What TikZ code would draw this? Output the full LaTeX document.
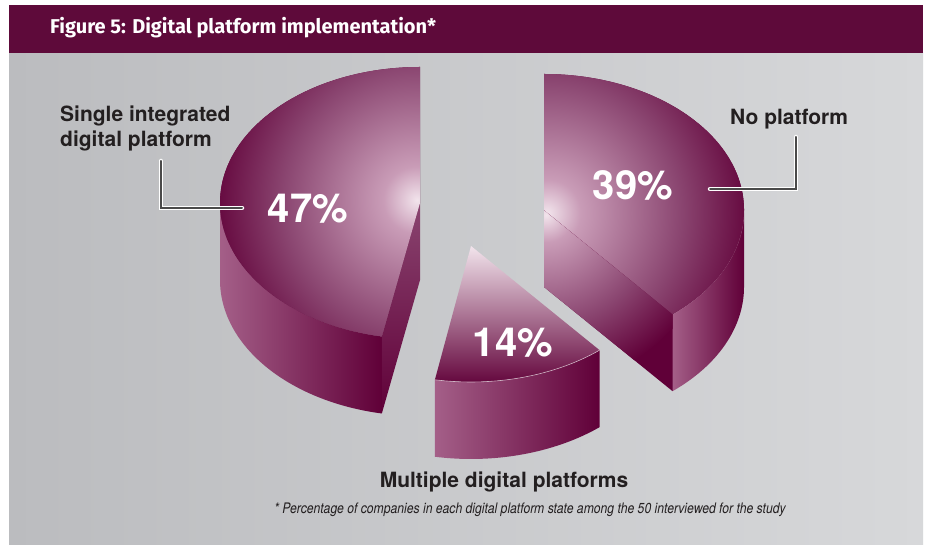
\documentclass[tikz,border=0pt]{standalone}
\usepackage{fontspec}
\setmainfont{TeX Gyre Heros}
\newfontfamily\titlefont{Fira Sans}
\newfontfamily\notefont[FakeStretch=0.84]{TeX Gyre Heros}
\usetikzlibrary{calc}

\definecolor{barmaroon}{HTML}{5E0A3A}
\definecolor{piedark}{HTML}{600038}
\definecolor{piewall}{HTML}{A45F88}
\definecolor{glowA}{HTML}{F2E4EC}
\definecolor{glowB}{HTML}{C99CB7}
\definecolor{glowC}{HTML}{8A4570}
\definecolor{panelL}{HTML}{BBBCBF}
\definecolor{panelR}{HTML}{D7D8DA}
\definecolor{leadgray}{HTML}{4A4A4A}
\definecolor{labeltext}{HTML}{231F20}

\pgfdeclareradialshading{pieglow}{\pgfpoint{0bp}{0bp}}{color(0bp)=(glowA); color(4bp)=(glowB); color(16bp)=(glowC); color(25bp)=(piedark); color(50bp)=(piedark)}

\tikzset{
  label/.style={font=\bfseries\fontsize{21}{25}\selectfont, text=labeltext, inner sep=0pt, align=left},
  pct/.style={font=\bfseries\fontsize{40}{44}\selectfont, text=white, inner sep=0pt},
  leader/.style={draw=leadgray, line width=2pt, line cap=round, preaction={draw=white, line width=4.5pt, line cap=round}},
  wall/.style={left color=piewall, right color=piedark},
}

\begin{document}
\begin{tikzpicture}[x=1pt, y=1pt, x radius=200, y radius=136]
  \fill[white] (0,0) rectangle (928,545);
  \useasboundingbox (0,0) rectangle (928,545);
  \shade[left color=panelL, right color=panelR] (9,0) rectangle (923,492);
  \fill[barmaroon] (9,492) rectangle (923,540);
  \node[anchor=base west, inner sep=0pt, text=white, font=\titlefont\bfseries\fontsize{20}{24}\selectfont] (title) at (50,511) {Figure 5: Digital platform implementation*};

  \coordinate (cA) at (420,342);
  \coordinate (cB) at (544,335);
  \coordinate (cC) at (471,299);

  % 47%
  \shade[wall] ($(cA)+(180:200 and 136)$) arc[start angle=180, end angle=259] -- ++(0,-77) arc[start angle=259, end angle=180] -- cycle;
  \shade[top color=glowC, bottom color=piedark] (cA) -- ($(cA)+(259:200 and 136)$) -- ++(0,-77) -- ($(cA)+(0,-77)$) -- cycle;
  \begin{scope}
    \clip (cA) -- ($(cA)+(90:200 and 136)$) arc[start angle=90, end angle=259] -- cycle;
    \fill[piedark] (cA) circle (260);
    \shade[shading=pieglow] (417,345) circle (210);
  \end{scope}

  % 39%
  \shade[wall] ($(cB)+(-50:200 and 136)$) arc[start angle=-50, end angle=0] -- ++(0,-77) arc[start angle=0, end angle=-50] -- cycle;
  \draw[white, opacity=0.35, line width=0.6pt] ($(cB)+(-50:200 and 136)$) arc[start angle=-50, end angle=0];
  \begin{scope}
    \clip (cB) -- ($(cB)+(-50:200 and 136)$) -- ++(0,-77) -- ($(cB)+(0,-77)$) -- cycle;
    \fill[piedark] (cB) circle (260);
    \shade[shading=pieglow] (546,330) circle (170);
  \end{scope}
  \begin{scope}
    \clip (cB) -- ($(cB)+(-50:200 and 136)$) arc[start angle=-50, end angle=90] -- cycle;
    \fill[piedark] (cB) circle (260);
    \shade[shading=pieglow] (547,332) circle (210);
  \end{scope}

  % 14%
  \shade[wall] ($(cC)+(-100.4:200 and 136)$) arc[start angle=-100.4, end angle=-50] -- ++(0,-77) arc[start angle=-50, end angle=-100.4] -- cycle;
  \shade[top color=glowA, middle color=glowC, bottom color=piedark] (cC) -- ($(cC)+(-100.4:200 and 136)$) arc[start angle=-100.4, end angle=-50] -- cycle;
  \draw[white, opacity=0.6, line width=0.6pt] ($(cC)+(-100.4:200 and 136)$) arc[start angle=-100.4, end angle=-50];

  \node[pct, anchor=base] (pctA) at (308,322) {47\%};
  \node[pct, anchor=base] (pctB) at (633,345) {39\%};
  \node[pct, anchor=base] (pctC) at (513,188) {14\%};

  \node[label, anchor=north west] (single) at (60,439) {Single integrated\\digital platform};
  \node[label, anchor=base west] (none) at (730,420) {No platform};
  \node[label, anchor=base] (multi) at (504,57) {Multiple digital platforms};
  \node[anchor=base, inner sep=0pt, text=labeltext, font=\notefont\itshape\fontsize{14.5}{17}\selectfont] (note) at (530,31) {* Percentage of companies in each digital platform state among the 50 interviewed for the study};

  \coordinate (singletop) at (161,384);
  \coordinate (singleend) at (242,337);
  \coordinate (nonetop) at (796,408);
  \coordinate (noneend) at (710,356);
  \draw[leader] (singletop) |- (singleend);
  \draw[leader] (nonetop) |- (noneend);
\end{tikzpicture}
\end{document}
